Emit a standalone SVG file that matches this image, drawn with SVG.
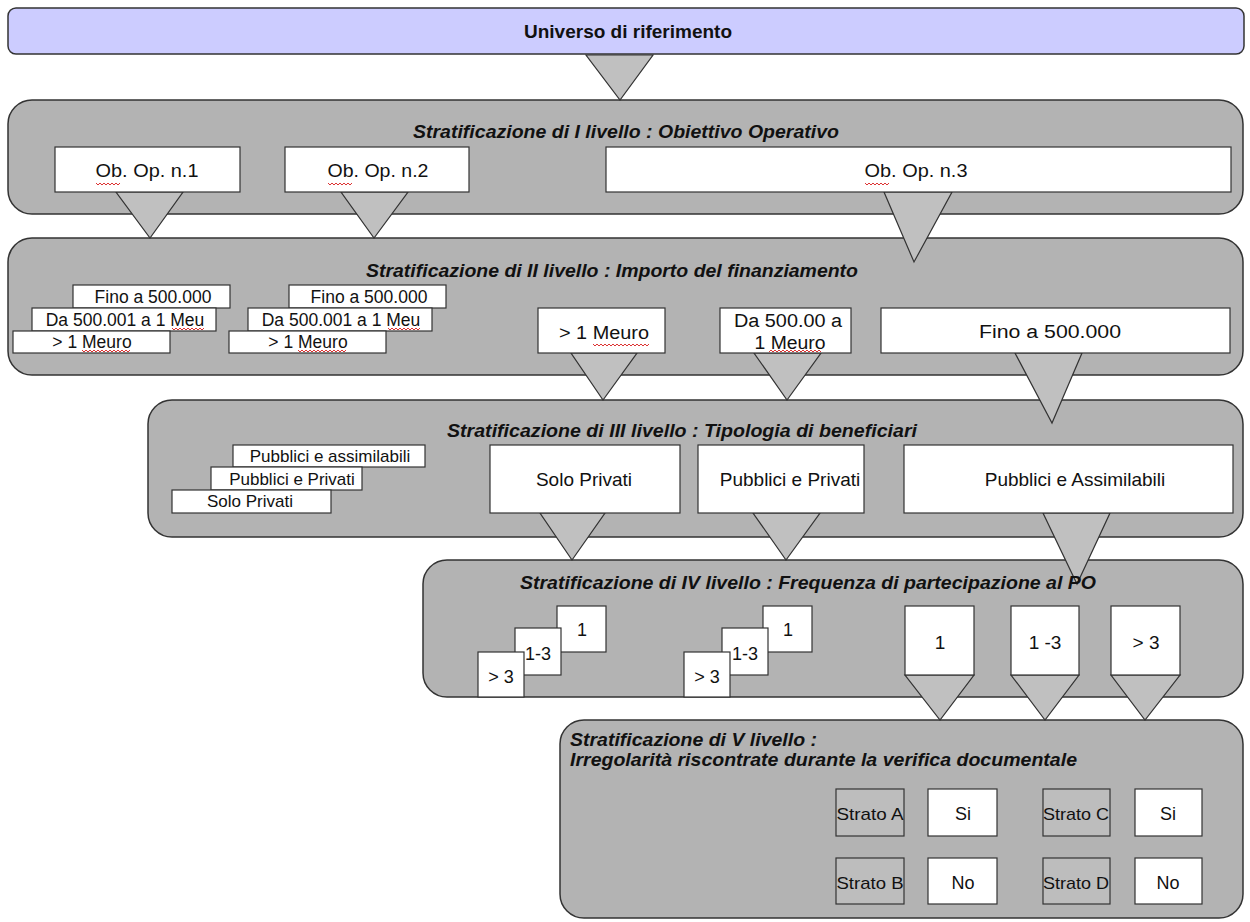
<svg xmlns="http://www.w3.org/2000/svg" width="1250" height="922" viewBox="0 0 1250 922">
<defs>
<style>
.cont{fill:#b3b3b3;stroke:#333;stroke-width:1.5}
.box{fill:#fff;stroke:#333;stroke-width:1.2}
.gbox{fill:#bdbdbd;stroke:#333;stroke-width:1.2}
.tri{fill:#c0c0c0;stroke:#333;stroke-width:1.2;stroke-linejoin:miter}
.t{font-family:"Liberation Sans",Arial,sans-serif;fill:#111;text-anchor:middle}
.title{font-family:"Liberation Sans",Arial,sans-serif;font-weight:bold;font-style:italic;fill:#111;text-anchor:middle}
.left{text-anchor:start}
.wave{fill:none;stroke:#d33;stroke-width:1}
</style>
</defs>
<rect width="1250" height="922" fill="#fff"/>

<g id="universo">
<rect x="8" y="8" width="1236" height="46" rx="8" fill="#ccccff" stroke="#333" stroke-width="1.5"/>
<text class="t" x="628" y="38" font-size="19" font-weight="bold">Universo di riferimento</text>
</g>

<g id="livello1">
<rect class="cont" x="8" y="100" width="1235" height="114" rx="24"/>
<text class="title" x="626" y="138" font-size="19" textLength="426" lengthAdjust="spacingAndGlyphs">Stratificazione di I livello : Obiettivo Operativo</text>
</g>
<g id="livello2">
<rect class="cont" x="8" y="238" width="1235" height="137" rx="24"/>
<text class="title" x="612" y="277" font-size="19" textLength="492" lengthAdjust="spacingAndGlyphs">Stratificazione di II livello : Importo del finanziamento</text>
</g>
<g id="livello3">
<rect class="cont" x="148" y="400" width="1095" height="137" rx="24"/>
<text class="title" x="682" y="437" font-size="18" textLength="470" lengthAdjust="spacingAndGlyphs">Stratificazione di III livello : Tipologia di beneficiari</text>
</g>
<g id="livello4">
<rect class="cont" x="423" y="560" width="820" height="137" rx="24"/>
</g>
<g id="livello5">
<rect class="cont" x="560" y="720" width="683" height="198" rx="24"/>
<text class="title left" x="570" y="746" font-size="19" textLength="247" lengthAdjust="spacingAndGlyphs">Stratificazione di V livello :</text>
<text class="title left" x="570" y="766" font-size="19" textLength="507" lengthAdjust="spacingAndGlyphs">Irregolarità riscontrate durante la verifica documentale</text>
</g>

<g id="connectors">
<polygon class="tri" points="586,55 653,55 620,100"/>
<polygon class="tri" points="116,192 183,192 150,238"/>
<polygon class="tri" points="341,192 408,192 374,238"/>
<polygon class="tri" points="884,192 952,192 914,262"/>
<polygon class="tri" points="571,353 637,353 603,400"/>
<polygon class="tri" points="754,353 821,353 787,400"/>
<polygon class="tri" points="1015,353 1082,353 1052,423"/>
<polygon class="tri" points="540,513 605,513 572,560"/>
<polygon class="tri" points="753,513 820,513 786,560"/>
<polygon class="tri" points="1043,513 1110,513 1077,584"/>
<polygon class="tri" points="905,675 974,675 940,720"/>
<polygon class="tri" points="1011,675 1079,675 1045,720"/>
<polygon class="tri" points="1111,675 1180,675 1145,720"/>
</g>

<g id="titolo4">
<text class="title" x="808" y="589" font-size="18" textLength="576" lengthAdjust="spacingAndGlyphs">Stratificazione di IV livello : Frequenza di partecipazione al PO</text>
</g>

<g id="ob1">
<rect class="box" x="55" y="147" width="185" height="45"/>
<text class="t" x="147" y="177" font-size="18" textLength="103" lengthAdjust="spacingAndGlyphs">Ob. Op. n.1</text>
<path class="wave" d="M96 183 l2 2 l2 -2 l2 2 l2 -2 l2 2 l2 -2 l2 2 l2 -2 l2 2 l2 -2 l2 2 l2 -2"/>
</g>
<g id="ob2">
<rect class="box" x="285" y="147" width="184" height="45"/>
<text class="t" x="378" y="177" font-size="18" textLength="101" lengthAdjust="spacingAndGlyphs">Ob. Op. n.2</text>
<path class="wave" d="M328 183 l2 2 l2 -2 l2 2 l2 -2 l2 2 l2 -2 l2 2 l2 -2 l2 2 l2 -2 l2 2 l2 -2"/>
</g>
<g id="ob3">
<rect class="box" x="606" y="147" width="625" height="45"/>
<text class="t" x="916" y="177" font-size="18" textLength="103" lengthAdjust="spacingAndGlyphs">Ob. Op. n.3</text>
<path class="wave" d="M865 183 l2 2 l2 -2 l2 2 l2 -2 l2 2 l2 -2 l2 2 l2 -2 l2 2 l2 -2 l2 2 l2 -2"/>
</g>

<g id="imp-a">
<rect class="box" x="73" y="285" width="157" height="23"/>
<text class="t" x="153" y="303" font-size="17.5">Fino a 500.000</text>
<rect class="box" x="32" y="308" width="184" height="23"/>
<text class="t" x="125" y="326" font-size="17.5">Da 500.001 a 1 Meu</text>
<path class="wave" d="M172 328 l2 2 l2 -2 l2 2 l2 -2 l2 2 l2 -2 l2 2 l2 -2 l2 2 l2 -2 l2 2 l2 -2 l2 2 l2 -2 l2 2 l2 -2"/>
<rect class="box" x="13" y="331" width="157" height="22"/>
<text class="t" x="92" y="348" font-size="17.5">&gt; 1 Meuro</text>
<path class="wave" d="M82 350 l2 2 l2 -2 l2 2 l2 -2 l2 2 l2 -2 l2 2 l2 -2 l2 2 l2 -2 l2 2 l2 -2 l2 2 l2 -2 l2 2 l2 -2 l2 2 l2 -2 l2 2 l2 -2 l2 2 l2 -2 l2 2 l2 -2"/>
</g>
<g id="imp-b">
<rect class="box" x="289" y="285" width="157" height="23"/>
<text class="t" x="369" y="303" font-size="17.5">Fino a 500.000</text>
<rect class="box" x="248" y="308" width="184" height="23"/>
<text class="t" x="341" y="326" font-size="17.5">Da 500.001 a 1 Meu</text>
<path class="wave" d="M388 328 l2 2 l2 -2 l2 2 l2 -2 l2 2 l2 -2 l2 2 l2 -2 l2 2 l2 -2 l2 2 l2 -2 l2 2 l2 -2 l2 2 l2 -2"/>
<rect class="box" x="229" y="331" width="157" height="22"/>
<text class="t" x="308" y="348" font-size="17.5">&gt; 1 Meuro</text>
<path class="wave" d="M298 350 l2 2 l2 -2 l2 2 l2 -2 l2 2 l2 -2 l2 2 l2 -2 l2 2 l2 -2 l2 2 l2 -2 l2 2 l2 -2 l2 2 l2 -2 l2 2 l2 -2 l2 2 l2 -2 l2 2 l2 -2 l2 2 l2 -2"/>
</g>
<g id="imp-gt1">
<rect class="box" x="538" y="308" width="127" height="45"/>
<text class="t" x="604" y="339" font-size="18" textLength="90" lengthAdjust="spacingAndGlyphs">&gt; 1 Meuro</text>
<path class="wave" d="M593 344 l2 2 l2 -2 l2 2 l2 -2 l2 2 l2 -2 l2 2 l2 -2 l2 2 l2 -2 l2 2 l2 -2 l2 2 l2 -2 l2 2 l2 -2 l2 2 l2 -2 l2 2 l2 -2 l2 2 l2 -2 l2 2 l2 -2 l2 2 l2 -2 l2 2 l2 -2"/>
</g>
<g id="imp-da500">
<rect class="box" x="720" y="308" width="131" height="45"/>
<text class="t" x="788" y="327" font-size="18" textLength="108" lengthAdjust="spacingAndGlyphs">Da 500.00 a</text>
<text class="t" x="790" y="349" font-size="18" textLength="71" lengthAdjust="spacingAndGlyphs">1 Meuro</text>
<path class="wave" d="M769 352 l2 -2 l2 2 l2 -2 l2 2 l2 -2 l2 2 l2 -2 l2 2 l2 -2 l2 2 l2 -2 l2 2 l2 -2 l2 2 l2 -2 l2 2 l2 -2 l2 2 l2 -2 l2 2 l2 -2 l2 2 l2 -2 l2 2 l2 -2 l2 2"/>
</g>
<g id="imp-fino">
<rect class="box" x="881" y="308" width="349" height="45"/>
<text class="t" x="1050" y="338" font-size="18" textLength="142" lengthAdjust="spacingAndGlyphs">Fino a 500.000</text>
</g>

<g id="ben-stack">
<rect class="box" x="233" y="445" width="192" height="22"/>
<text class="t" x="330" y="462" font-size="17">Pubblici e assimilabili</text>
<rect class="box" x="211" y="467" width="151" height="23"/>
<text class="t" x="292" y="485" font-size="17">Pubblici e Privati</text>
<rect class="box" x="172" y="490" width="159" height="23"/>
<text class="t" x="250" y="507" font-size="17">Solo Privati</text>
</g>
<g id="ben-solo">
<rect class="box" x="490" y="445" width="190" height="68"/>
<text class="t" x="584" y="486" font-size="19">Solo Privati</text>
</g>
<g id="ben-pp">
<rect class="box" x="698" y="445" width="166" height="68"/>
<text class="t" x="790" y="486" font-size="19">Pubblici e Privati</text>
</g>
<g id="ben-pa">
<rect class="box" x="904" y="445" width="329" height="68"/>
<text class="t" x="1075" y="486" font-size="19">Pubblici e Assimilabili</text>
</g>

<g id="freq-stack-a">
<rect class="box" x="557" y="606" width="49" height="46"/>
<text class="t" x="582" y="636" font-size="18">1</text>
<rect class="box" x="515" y="628" width="46" height="47"/>
<text class="t" x="538" y="660" font-size="18">1-3</text>
<rect class="box" x="478" y="652" width="46" height="45"/>
<text class="t" x="501" y="683" font-size="18">&gt; 3</text>
</g>
<g id="freq-stack-b">
<rect class="box" x="763" y="606" width="49" height="46"/>
<text class="t" x="788" y="636" font-size="18">1</text>
<rect class="box" x="722" y="628" width="46" height="47"/>
<text class="t" x="745" y="660" font-size="18">1-3</text>
<rect class="box" x="684" y="652" width="46" height="45"/>
<text class="t" x="707" y="683" font-size="18">&gt; 3</text>
</g>
<g id="freq-1">
<rect class="box" x="905" y="606" width="69" height="69"/>
<text class="t" x="940" y="649" font-size="19">1</text>
</g>
<g id="freq-13">
<rect class="box" x="1011" y="606" width="68" height="69"/>
<text class="t" x="1045" y="649" font-size="19">1 -3</text>
</g>
<g id="freq-gt3">
<rect class="box" x="1111" y="606" width="69" height="69"/>
<text class="t" x="1146" y="649" font-size="19">&gt; 3</text>
</g>

<g id="strato-a">
<rect class="gbox" x="836" y="789" width="68" height="47"/>
<text class="t" x="870" y="820" font-size="17" textLength="67" lengthAdjust="spacingAndGlyphs">Strato A</text>
</g>
<g id="si-a">
<rect class="box" x="928" y="789" width="69" height="47"/>
<text class="t" x="963" y="820" font-size="18">Si</text>
</g>
<g id="strato-c">
<rect class="gbox" x="1043" y="789" width="67" height="47"/>
<text class="t" x="1076" y="820" font-size="17" textLength="66" lengthAdjust="spacingAndGlyphs">Strato C</text>
</g>
<g id="si-c">
<rect class="box" x="1135" y="789" width="67" height="47"/>
<text class="t" x="1168" y="820" font-size="18">Si</text>
</g>
<g id="strato-b">
<rect class="gbox" x="836" y="858" width="68" height="46"/>
<text class="t" x="870" y="889" font-size="17" textLength="67" lengthAdjust="spacingAndGlyphs">Strato B</text>
</g>
<g id="no-b">
<rect class="box" x="928" y="858" width="69" height="46"/>
<text class="t" x="963" y="889" font-size="18">No</text>
</g>
<g id="strato-d">
<rect class="gbox" x="1043" y="858" width="67" height="46"/>
<text class="t" x="1076" y="889" font-size="17" textLength="66" lengthAdjust="spacingAndGlyphs">Strato D</text>
</g>
<g id="no-d">
<rect class="box" x="1135" y="858" width="67" height="46"/>
<text class="t" x="1168" y="889" font-size="18">No</text>
</g>
</svg>
